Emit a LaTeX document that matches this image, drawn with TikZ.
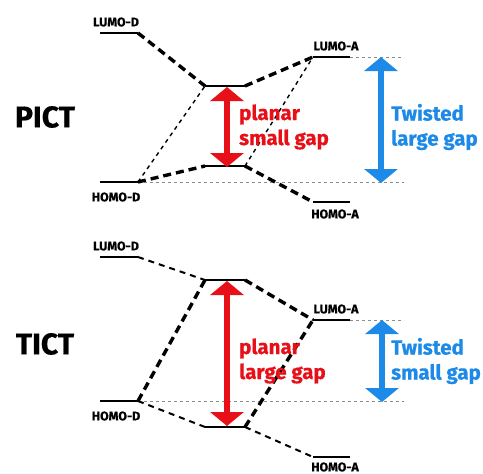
\documentclass[tikz,border=0pt]{standalone}
\usepackage{fontspec}
\setmainfont{Fira Sans}[BoldFeatures={FakeBold=0.6}]
\usetikzlibrary{arrows.meta}
\definecolor{gapred}{RGB}{232,16,24}
\definecolor{gapblue}{RGB}{28,138,230}
\begin{document}
\begin{tikzpicture}[x=1pt,y=-1pt,
  level/.style={line width=2.8pt},
  thickdash/.style={line width=3.4pt, dash pattern=on 8pt off 5pt},
  thindash/.style={line width=1.4pt, dash pattern=on 4pt off 4pt},
  meddash/.style={line width=2pt, dash pattern=on 6pt off 5pt},
  guide/.style={black!45, line width=0.9pt, dash pattern=on 3pt off 3pt},
  lvllabel/.style={font=\bfseries\fontsize{12.5}{12.5}\selectfont, inner sep=0pt},
  titlelabel/.style={font=\bfseries\fontsize{30}{30}\selectfont, inner sep=0pt},
  gaplabel/.style={font=\bfseries\fontsize{20.5}{25}\selectfont, align=left, inner sep=0pt, anchor=west},
  redarrow/.style={gapred, line width=6pt, {Triangle[width=33pt,length=14pt]}-{Triangle[width=33pt,length=14pt]}},
  bluearrow/.style={gapblue, line width=6pt, {Triangle[width=33pt,length=14pt]}-{Triangle[width=33pt,length=14pt]}}
]
\useasboundingbox (0,0) rectangle (483,474);

% ---------------- PICT ----------------
\node[titlelabel] (pict) at (45,117) {PICT};
\coordinate (aLDl) at (100,33);  \coordinate (aLDr) at (138,33);
\coordinate (aHDl) at (100,182); \coordinate (aHDr) at (138,182);
\coordinate (aUl) at (205,86);   \coordinate (aUr) at (245,86);
\coordinate (aLl) at (205,166);  \coordinate (aLr) at (245,166);
\coordinate (aLAl) at (313,57);  \coordinate (aLAr) at (350,57);
\coordinate (aHAl) at (313,202); \coordinate (aHAr) at (350,202);
\coordinate (aG1) at (404,57);   \coordinate (aG2) at (404,182);

\draw[guide] (aLAr) -- (aG1);
\draw[guide] (aHDr) -- (aG2);

\draw[thickdash] (aLDr) -- (aUl);
\draw[thindash] (aHDr) -- (aUl);
\draw[thickdash] (aHDr) -- (aLl);
\draw[thickdash] (aUr) -- (aLAl);
\draw[thindash] (aLr) -- (aLAl);
\draw[thickdash] (aLr) -- (aHAl);

\draw[level] (aLDl) -- (aLDr);
\draw[level] (aHDl) -- (aHDr);
\draw[level] (aUl) -- (aUr);
\draw[level] (aLl) -- (aLr);
\draw[level] (aLAl) -- (aLAr);
\draw[level] (aHAl) -- (aHAr);

\node[lvllabel] (aLDt) at (116,22) {LUMO-D};
\node[lvllabel] (aHDt) at (116,197) {HOMO-D};
\node[lvllabel] (aLAt) at (336,46) {LUMO-A};
\node[lvllabel] (aHAt) at (335,214) {HOMO-A};

\coordinate (aRt) at (227,87);  \coordinate (aRb) at (227,167);
\draw[redarrow] (aRt) -- (aRb);
\coordinate (aBt) at (381,57);  \coordinate (aBb) at (381,183);
\draw[bluearrow] (aBt) -- (aBb);

\node[gaplabel, gapred] (aRtxt) at (239,127) {planar\\small gap};
\node[gaplabel, gapblue] (aBtxt) at (391,127) {Twisted\\large gap};

% ---------------- TICT ----------------
\node[titlelabel] (tict) at (45,344) {TICT};
\coordinate (bLDl) at (100,257); \coordinate (bLDr) at (138,257);
\coordinate (bHDl) at (100,401); \coordinate (bHDr) at (138,401);
\coordinate (bUl) at (205,280);  \coordinate (bUr) at (245,280);
\coordinate (bLl) at (205,427);  \coordinate (bLr) at (245,427);
\coordinate (bLAl) at (313,320); \coordinate (bLAr) at (350,320);
\coordinate (bHAl) at (313,457); \coordinate (bHAr) at (350,457);
\coordinate (bG1) at (404,320);  \coordinate (bG2) at (404,401);

\draw[guide] (bLAr) -- (bG1);
\draw[guide] (bHDr) -- (bG2);

\draw[meddash] (bLDr) -- (bUl);
\draw[thickdash] (bHDr) -- (bUl);
\draw[meddash] (bHDr) -- (bLl);
\draw[thickdash] (bUr) -- (bLAl);
\draw[thickdash] (bLr) -- (bLAl);
\draw[meddash] (bLr) -- (bHAl);

\draw[level] (bLDl) -- (bLDr);
\draw[level] (bHDl) -- (bHDr);
\draw[level] (bUl) -- (bUr);
\draw[level] (bLl) -- (bLr);
\draw[level] (bLAl) -- (bLAr);
\draw[level] (bHAl) -- (bHAr);

\node[lvllabel] (bLDt) at (116,246) {LUMO-D};
\node[lvllabel] (bHDt) at (116,416) {HOMO-D};
\node[lvllabel] (bLAt) at (336,309) {LUMO-A};
\node[lvllabel] (bHAt) at (335,467) {HOMO-A};

\coordinate (bRt) at (227,281);  \coordinate (bRb) at (227,426);
\draw[redarrow] (bRt) -- (bRb);
\coordinate (bBt) at (382,320);  \coordinate (bBb) at (382,402);
\draw[bluearrow] (bBt) -- (bBb);

\node[gaplabel, gapred] (bRtxt) at (239,361) {planar\\large gap};
\node[gaplabel, gapblue] (bBtxt) at (391,361) {Twisted\\small gap};
\end{tikzpicture}
\end{document}
